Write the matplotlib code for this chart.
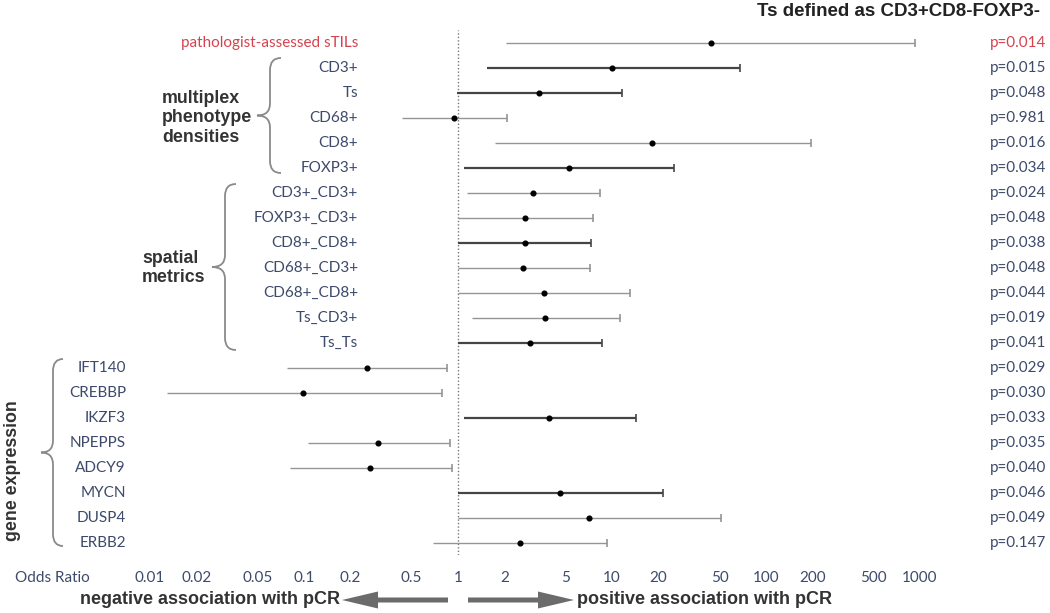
import numpy as np
import matplotlib
matplotlib.use("Agg")
import matplotlib.pyplot as plt
from matplotlib.path import Path
from matplotlib.patches import PathPatch, FancyArrow
from matplotlib.ticker import NullLocator
import matplotlib.transforms as mtransforms

# ---------------- data ----------------
labels = ["pathologist-assessed sTILs", "CD3+", "Ts", "CD68+", "CD8+", "FOXP3+",
          "CD3+_CD3+", "FOXP3+_CD3+", "CD8+_CD8+", "CD68+_CD3+", "CD68+_CD8+",
          "Ts_CD3+", "Ts_Ts",
          "IFT140", "CREBBP", "IKZF3", "NPEPPS", "ADCY9", "MYCN", "DUSP4", "ERBB2"]
odds_ratio = [44, 10.0, 3.36, 0.94, 18.2, 5.26,
              3.07, 2.72, 2.72, 2.64, 3.62, 3.67, 2.93,
              0.256, 0.0986, 3.9, 0.302, 0.268, 4.6, 7.09, 2.53]
ci_low = [2.05, 1.54, 0.99, 0.433, 1.74, 1.09,
          1.14, 1.0, 1.0, 1.0, 1.0, 1.23, 1.0,
          0.0776, 0.0129, 1.09, 0.106, 0.081, 1.0, 1.0, 0.688]
ci_high = [929, 67.8, 11.6, 2.08, 196, 25.3,
           8.36, 7.53, 7.3, 7.19, 13.1, 11.3, 8.61,
           0.848, 0.787, 14.3, 0.887, 0.914, 21.4, 51, 9.28]
p_values = ["p=0.014", "p=0.015", "p=0.048", "p=0.981", "p=0.016", "p=0.034",
            "p=0.024", "p=0.048", "p=0.038", "p=0.048", "p=0.044", "p=0.019", "p=0.041",
            "p=0.029", "p=0.030", "p=0.033", "p=0.035", "p=0.040", "p=0.046", "p=0.049", "p=0.147"]
emphasis = [False, True, True, False, False, True,
            False, False, True, False, False, False, True,
            False, False, True, False, False, True, False, False]
tick_values = [0.01, 0.02, 0.05, 0.1, 0.2, 0.5, 1, 2, 5, 10, 20, 50, 100, 200, 500, 1000]
tick_labels = ["0.01", "0.02", "0.05", "0.1", "0.2", "0.5", "1", "2", "5", "10",
               "20", "50", "100", "200", "500", "1000"]
group_multiplex = (1, 5)
group_spatial = (6, 12)
group_gene = (13, 20)

# ---------------- style ----------------
W, H = 1050, 613
LABEL_C = "#3d4a6b"
RED_C = "#d4434f"
GROUP_C = "#333333"
BRACE_C = "#8a8a8a"
ARROW_C = "#6b6b6b"
LFONT = ["Lato", "DejaVu Sans"]
BFONT = ["Liberation Sans", "DejaVu Sans"]
FS = 11

fig = plt.figure(figsize=(W / 100, H / 100), dpi=100)
fig.patch.set_facecolor("white")

# main axes: pixel 140..940 horizontally, 30..555 vertically
ax_l, ax_r, ax_t, ax_b = 140, 940, 30, 555
ax = fig.add_axes([ax_l / W, (H - ax_b) / H, (ax_r - ax_l) / W, (ax_b - ax_t) / H])
px_one, px_dec = 458, 154
ax.set_xscale("log")
ax.set_xlim(10 ** ((ax_l - px_one) / px_dec), 10 ** ((ax_r - px_one) / px_dec))
n = len(labels)
ax.set_ylim(n - 1 + 0.48, -0.52)
for s in ax.spines.values():
    s.set_visible(False)
ax.set_yticks([])
ax.set_xticks(tick_values)
ax.set_xticklabels(tick_labels, family=LFONT, fontsize=FS, color=LABEL_C)
ax.xaxis.set_minor_locator(NullLocator())
ax.tick_params(axis="x", length=0, pad=11.5)
ax.patch.set_visible(False)

# overlay axes in pixel coordinates
over = fig.add_axes([0, 0, 1, 1], zorder=-1)
over.set_xlim(0, W)
over.set_ylim(H, 0)
over.axis("off")

trans = mtransforms.blended_transform_factory(over.transData, ax.transData)

ax.axvline(1, color="#777777", ls=(0, (1, 1.5)), lw=1, zorder=1)

for i in range(n):
    col = "#454545" if emphasis[i] else "#959595"
    lw = 1.6 if emphasis[i] else 1.0
    ax.plot([ci_low[i], ci_high[i]], [i, i], color=col, lw=lw, solid_capstyle="butt", zorder=2)
    ax.plot([ci_high[i]], [i], marker="|", ms=6, mew=1.2, color=col, zorder=2)
    ax.plot([odds_ratio[i]], [i], "o", ms=3.4, color="black", zorder=3)
    c = RED_C if i == 0 else LABEL_C
    lx = 126 if i >= group_gene[0] else 358
    ax.text(lx, i, labels[i], transform=trans, ha="right", va="center",
            family=LFONT, fontsize=FS, color=c)
    ax.text(1046, i, p_values[i], transform=trans, ha="right", va="center",
            family=LFONT, fontsize=FS, color=c)

over.text(1040, 12, "Ts defined as CD3+CD8-FOXP3-", ha="right", va="center",
          family=BFONT, fontsize=13.5, fontweight="bold", color="#222222")
over.text(15, 578, "Odds Ratio", ha="left", va="center", family=LFONT,
          fontsize=FS, color=LABEL_C)


def row_px(i):
    return over.transData.inverted().transform(ax.transData.transform((1, i)))[1]


def brace(x_end, x_mid, x_tip, y_top, y_mid, y_bot, r=12):
    verts = [(x_end, y_top), (x_mid, y_top), (x_mid, y_top + r),
             (x_mid, y_mid - r), (x_mid, y_mid), (x_tip, y_mid),
             (x_mid, y_mid), (x_mid, y_mid + r),
             (x_mid, y_bot - r), (x_mid, y_bot), (x_end, y_bot)]
    codes = [Path.MOVETO, Path.CURVE3, Path.CURVE3,
             Path.LINETO, Path.CURVE3, Path.CURVE3,
             Path.CURVE3, Path.CURVE3,
             Path.LINETO, Path.CURVE3, Path.CURVE3]
    over.add_patch(PathPatch(Path(verts, codes), fill=False, ec=BRACE_C, lw=1.3))


# multiplex brace
yt, yb = row_px(group_multiplex[0]) - 10, row_px(group_multiplex[1]) + 5
brace(281, 270, 257, yt, (yt + yb) / 2, yb)
ym = row_px((group_multiplex[0] + group_multiplex[1]) / 2)
over.text(162, ym, "multiplex\nphenotype\ndensities", ha="left", va="center",
          family=BFONT, fontsize=12.8, fontweight="bold", color=GROUP_C, linespacing=1.22)

# spatial brace
yt, yb = row_px(group_spatial[0]) - 9, row_px(group_spatial[1]) + 7
brace(236, 225, 212, yt, (yt + yb) / 2, yb)
ym = row_px((group_spatial[0] + group_spatial[1]) / 2)
over.text(142, ym, "spatial\nmetrics", ha="left", va="center",
          family=BFONT, fontsize=12.8, fontweight="bold", color=GROUP_C, linespacing=1.22)

# gene brace
yt, yb = row_px(group_gene[0]) - 9, row_px(group_gene[1]) + 3
brace(63, 53, 41, yt, (yt + yb) / 2, yb)
over.text(13, 471, "gene expression", ha="center", va="center", rotation=90,
          family=BFONT, fontsize=12.8, fontweight="bold", color=GROUP_C)

# bottom arrows
over.add_patch(FancyArrow(448, 600, -106, 0, width=5, head_width=17, head_length=36,
                          length_includes_head=True, color=ARROW_C, lw=0))
over.add_patch(FancyArrow(468, 600, 106, 0, width=5, head_width=17, head_length=36,
                          length_includes_head=True, color=ARROW_C, lw=0))
over.text(340, 599, "negative association with pCR", ha="right", va="center",
          family=BFONT, fontsize=13, fontweight="bold", color="#333333")
over.text(577, 599, "positive association with pCR", ha="left", va="center",
          family=BFONT, fontsize=13, fontweight="bold", color="#333333")

fig.savefig("out.png", dpi=100, facecolor="white")
